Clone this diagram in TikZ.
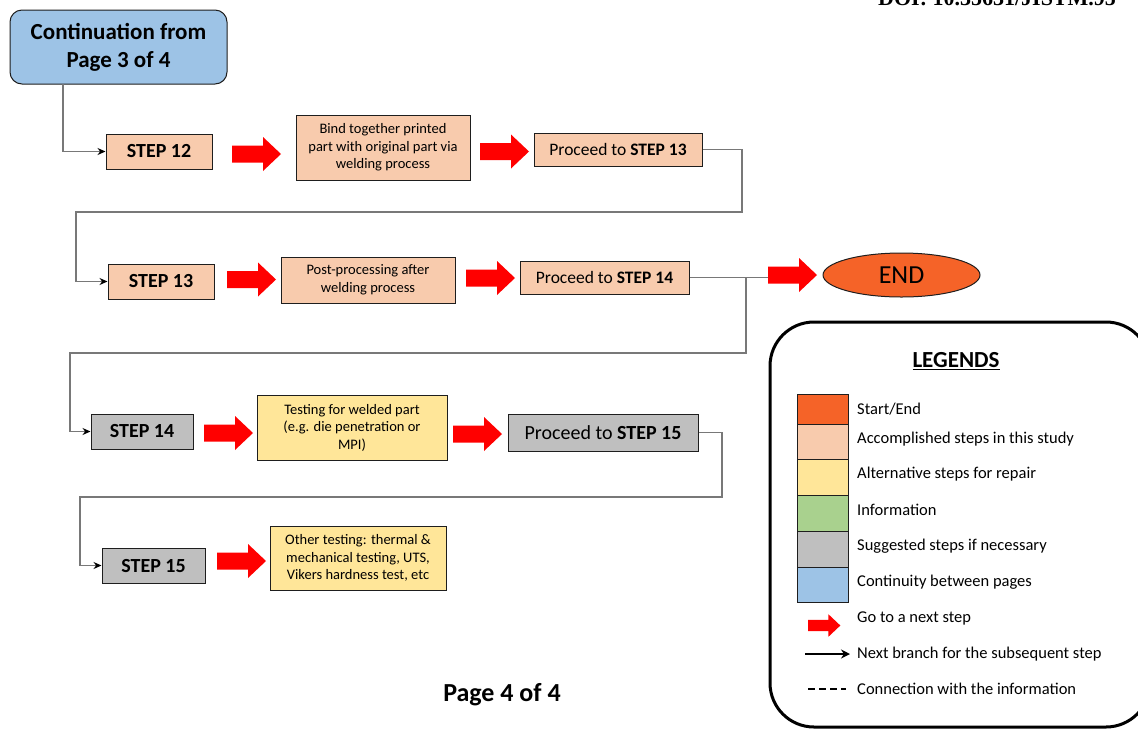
\documentclass[tikz,border=0pt]{standalone}
\usepackage{fontspec}
\setmainfont{Carlito}
\newfontfamily\doifont{Liberation Serif}
\usetikzlibrary{arrows.meta,shapes.geometric}

\definecolor{contblue}{RGB}{157,195,230}
\definecolor{peach}{RGB}{248,203,173}
\definecolor{paleyellow}{RGB}{255,230,153}
\definecolor{infogreen}{RGB}{169,209,142}
\definecolor{stepgray}{RGB}{191,191,191}
\definecolor{endorange}{RGB}{245,99,40}
\definecolor{arrowred}{RGB}{255,0,0}
\definecolor{boxline}{RGB}{30,30,30}
\definecolor{linkgray}{RGB}{120,120,120}

\tikzset{
  box/.style={draw=boxline,line width=1pt,inner sep=0pt,align=center},
  stepbox/.style={box,font=\fontsize{20}{24}\selectfont\bfseries},
  textbox/.style={box,font=\fontsize{14.5}{17.5}\selectfont},
  proceedbox/.style={box,font=\fontsize{17.5}{21}\selectfont},
  link/.style={draw=linkgray,line width=1.1pt},
  linkend/.style={link,-{Stealth[length=8pt,width=7pt,black]}},
  legtext/.style={anchor=west,inner sep=0pt,font=\fontsize{16.5}{20}\selectfont},
  legswatch/.style={draw=boxline,line width=0.9pt},
  pics/redarrow/.style={code={
    \fill[arrowred] (0,-8.5) -- (31,-8.5) -- (31,-17) -- (49,0)
      -- (31,17) -- (31,8.5) -- (0,8.5) -- cycle;}}
}

\begin{document}
\begin{tikzpicture}[x=1pt,y=-1pt]
\useasboundingbox (0,0) rectangle (1138,729);

% DOI header running off the top of the page
\node[anchor=base west,inner sep=0pt,font=\doifont\fontsize{22}{24}\selectfont\bfseries]
  (doi) at (878,5) {DOI: 10.35631/JISTM.95};

% page link
\node[box,fill=contblue,rounded corners=12pt,minimum width=217pt,minimum height=74pt,
  font=\fontsize{23}{28}\selectfont\bfseries] (cont) at (118.5,47) {Continuation from\\Page 3 of 4};

% row 1
\node[stepbox,fill=peach,minimum width=106pt,minimum height=35pt] (s12) at (159,151.5) {STEP 12};
\pic (ra1) at (232,154) {redarrow};
\node[textbox,fill=peach,minimum width=174pt,minimum height=65pt] (bind) at (383,147.5)
  {Bind together printed\\part with original part via\\welding process};
\pic (ra2) at (480,151.5) {redarrow};
\node[proceedbox,fill=peach,minimum width=168pt,minimum height=33pt] (p13) at (618,149.5)
  {Proceed to \textbf{STEP 13}};

% row 2
\node[stepbox,fill=peach,minimum width=106pt,minimum height=35pt] (s13) at (161,281.5) {STEP 13};
\pic (ra3) at (227,279.5) {redarrow};
\node[textbox,fill=peach,minimum width=174pt,minimum height=46pt] (post) at (368,280)
  {Post-processing after\\welding process};
\pic (ra4) at (466,278) {redarrow};
\node[proceedbox,fill=peach,minimum width=169pt,minimum height=33pt] (p14) at (604.5,277.5)
  {Proceed to \textbf{STEP 14}};
\pic (ra5) at (768,275) {redarrow};
\coordinate (endtail) at (768,277.5);
\node[ellipse,draw=boxline,line width=1pt,fill=endorange,minimum width=157pt,minimum height=44pt,
  inner sep=0pt,font=\fontsize{26}{30}\selectfont] (end) at (901.5,275) {END};

% row 3
\node[stepbox,fill=stepgray,minimum width=102pt,minimum height=35pt] (s14) at (142,431.5) {STEP 14};
\pic (ra6) at (204,433) {redarrow};
\node[textbox,fill=paleyellow,minimum width=190pt,minimum height=65pt] (test) at (352,427.5)
  {Testing for welded part\\(e.g. die penetration or\\MPI)};
\pic (ra7) at (453,434) {redarrow};
\node[box,fill=stepgray,minimum width=190pt,minimum height=37pt,font=\fontsize{20}{24}\selectfont]
  (p15) at (603,432.5) {Proceed to \textbf{STEP 15}};

% row 4
\node[stepbox,fill=stepgray,minimum width=103pt,minimum height=35pt] (s15) at (153.5,565.5) {STEP 15};
\pic (ra8) at (217,561) {redarrow};
\node[textbox,fill=paleyellow,minimum width=176pt,minimum height=64pt] (other) at (358,558)
  {Other testing: thermal \&\\mechanical testing, UTS,\\Vikers hardness test, etc};

% branch connectors
\coordinate (k0) at (63,84);
\coordinate (k1) at (742,212);
\coordinate (k2) at (76,212);
\coordinate (k3) at (746,353);
\coordinate (k4) at (70,353);
\coordinate (k5) at (722,497);
\coordinate (k6) at (80,497);
\draw[linkend] (k0) |- (s12.west);
\draw[linkend] (p13.east) -| (k1) -- (k2) |- (s13.west);
\draw[link] (p14.east) -- (endtail);
\draw[linkend] (p14.east -| k3) -- (k3) -- (k4) |- (s14.west);
\draw[linkend] (p15.east) -| (k5) -- (k6) |- (s15.west);

% page number
\node[font=\fontsize{26}{30}\selectfont\bfseries] (page) at (502,695) {Page 4 of 4};

% legend panel
\draw[line width=3pt,rounded corners=44pt] (770,322) rectangle (1150,727);
\node[font=\fontsize{23}{27}\selectfont\bfseries] (legtitle) at (956,361) {\underline{LEGENDS}};
\draw[legswatch,fill=endorange] (797,394) rectangle (848,424);
\draw[legswatch,fill=peach] (797,424) rectangle (848,459);
\draw[legswatch,fill=paleyellow] (797,459) rectangle (848,495);
\draw[legswatch,fill=infogreen] (797,495) rectangle (848,531);
\draw[legswatch,fill=stepgray] (797,531) rectangle (848,567);
\draw[legswatch,fill=contblue] (797,567) rectangle (848,602);
\node[legtext] (l1) at (857,409) {Start/End};
\node[legtext] (l2) at (857,439) {Accomplished steps in this study};
\node[legtext] (l3) at (857,474) {Alternative steps for repair};
\node[legtext] (l4) at (857,510) {Information};
\node[legtext] (l5) at (857,546) {Suggested steps if necessary};
\node[legtext] (l6) at (857,582) {Continuity between pages};
\node[legtext] (l7) at (857,618) {Go to a next step};
\node[legtext] (l8) at (857,654) {Next branch for the subsequent step};
\node[legtext] (l9) at (857,689) {Connection with the information};
\pic[scale=0.66] (legarrow) at (808,625.5) {redarrow};
\draw[line width=2.5pt,-{Stealth[length=9pt,width=9pt]}] (805,654) -- (850,654);
\draw[line width=2.5pt,dash pattern=on 7pt off 4pt] (808,689) -- (846,689);
\end{tikzpicture}
\end{document}
